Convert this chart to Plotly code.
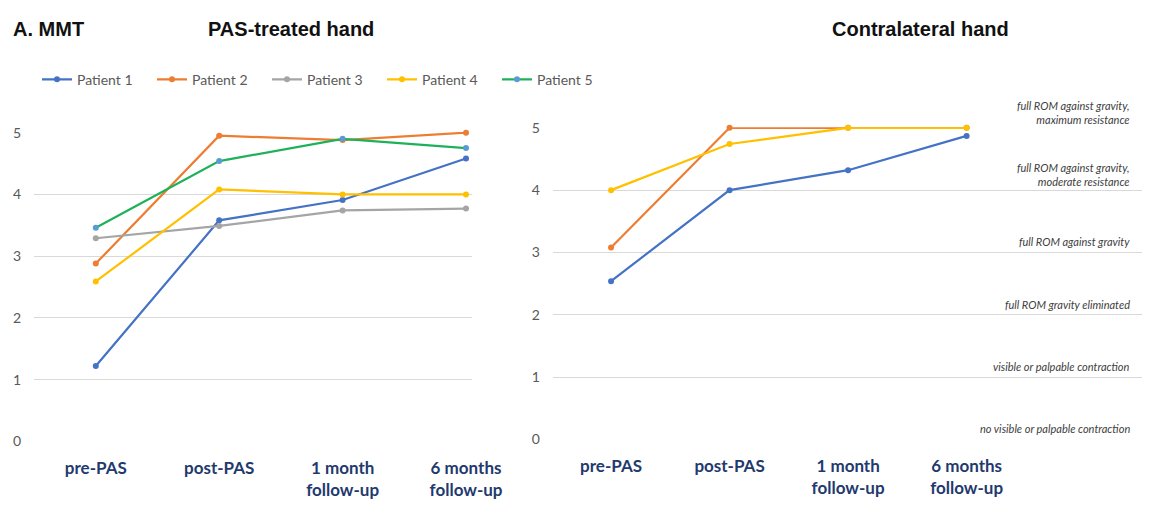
import plotly.graph_objects as go

W, H = 1173, 512

categories = ["pre-PAS", "post-PAS", "1 month<br>follow-up", "6 months<br>follow-up"]
patients = ["Patient 1", "Patient 2", "Patient 3", "Patient 4", "Patient 5"]

# PAS-treated hand
treated = {
    "Patient 1": [1.22, 3.58, 3.91, 4.58],
    "Patient 2": [2.88, 4.95, 4.88, 5.00],
    "Patient 3": [3.29, 3.49, 3.74, 3.77],
    "Patient 4": [2.59, 4.08, 4.00, 4.00],
    "Patient 5": [3.46, 4.54, 4.90, 4.75],
}
# Contralateral hand
contra = {
    "Patient 1": [2.54, 4.00, 4.32, 4.87],
    "Patient 2": [3.08, 5.00, 5.00, 5.00],
    "Patient 4": [4.00, 4.74, 5.00, 5.00],
}
scale_labels = [
    "no visible or palpable contraction",
    "visible or palpable contraction",
    "full ROM gravity eliminated",
    "full ROM against gravity",
    "full ROM against gravity,<br>moderate resistance",
    "full ROM against gravity,<br>maximum resistance",
]
y_ticks = [0, 1, 2, 3, 4, 5]

line_colors = {"Patient 1": "#4472C4", "Patient 2": "#ED7D31", "Patient 3": "#A5A5A5",
               "Patient 4": "#FFC000", "Patient 5": "#1DB25A"}
marker_colors = {"Patient 1": "#4472C4", "Patient 2": "#ED7D31", "Patient 3": "#A5A5A5",
                 "Patient 4": "#FFC000", "Patient 5": "#5B9BD5"}

xs = list(range(len(categories)))
fig = go.Figure()
for p in patients:
    fig.add_trace(go.Scatter(x=xs, y=treated[p], name=p, mode="lines+markers",
                             line=dict(color=line_colors[p], width=2.2),
                             marker=dict(color=marker_colors[p], size=6),
                             cliponaxis=False, xaxis="x", yaxis="y"))
for p in patients:
    if p in contra:
        fig.add_trace(go.Scatter(x=xs, y=contra[p], name=p, mode="lines+markers",
                                 line=dict(color=line_colors[p], width=2.2),
                                 marker=dict(color=marker_colors[p], size=6),
                                 cliponaxis=False, showlegend=False, xaxis="x2", yaxis="y2"))

tickfont_x = dict(family="Lato", size=17, color="#1F3A6E", weight="bold")
tickfont_y = dict(family="Lato", size=14, color="#595959")

YR = [-0.01, 5.01]
xcommon = dict(tickmode="array", tickvals=xs, ticktext=categories, showgrid=False,
               zeroline=False, showline=False, ticks="", tickfont=tickfont_x,
               ticklabelstandoff=14)
ycommon = dict(tickmode="array", tickvals=y_ticks, range=YR, showgrid=True,
               gridcolor="#D9D9D9", gridwidth=1, zeroline=False, showline=False,
               ticks="", tickfont=tickfont_y, ticklabelstandoff=12)

y1_dom = [(H - 447) / H, (H - 127) / H]
y2_dom = [(H - 445) / H, (H - 122) / H]

fig.update_layout(
    autosize=True, margin=dict(l=0, r=0, t=0, b=0),
    plot_bgcolor="white", paper_bgcolor="white",
    xaxis=dict(domain=[35 / W, 485 / W], range=[-0.5, 3.05], anchor="y", **xcommon),
    yaxis=dict(domain=y1_dom, anchor="x", **ycommon),
    xaxis2=dict(domain=[568 / W, 1.0], range=[-0.49, 4.48], anchor="y2", **xcommon),
    yaxis2=dict(domain=y2_dom, anchor="x2", **ycommon),
    legend=dict(orientation="h", x=38 / W, y=(H - 73) / H, xanchor="left", yanchor="middle",
                entrywidth=70, entrywidthmode="pixels",
                font=dict(family="Lato", size=14, color="#595959"), itemwidth=30),
    showlegend=True,
)

title_font = dict(family="Liberation Sans", size=20, color="#111111", weight="bold")
fig.add_annotation(text="A. MMT", xref="paper", yref="paper", x=11 / W, y=(H - 21) / H,
                   xanchor="left", yanchor="middle", showarrow=False, font=title_font)
fig.add_annotation(text="PAS-treated hand", xref="paper", yref="paper", x=299 / W, y=(H - 21) / H,
                   xanchor="center", yanchor="middle", showarrow=False, font=title_font)
fig.add_annotation(text="Contralateral hand", xref="paper", yref="paper", x=946 / W, y=(H - 21) / H,
                   xanchor="center", yanchor="middle", showarrow=False, font=title_font)


def y2_paper(v):
    return y2_dom[0] + (v - YR[0]) / (YR[1] - YR[0]) * (y2_dom[1] - y2_dom[0])


for level, lab in enumerate(scale_labels):
    off = 0.25 if "<br>" in lab else 0.17
    fig.add_annotation(text=lab, xref="paper", yref="paper", x=1163 / W, y=y2_paper(level + off),
                       xanchor="right", yanchor="middle", align="right", showarrow=False,
                       font=dict(family="Lato", size=11, color="#404040", style="italic"))

post = (
    "document.documentElement.style.height='100%';"
    "document.documentElement.style.margin='0';"
    "document.body.style.height='100%';"
    "document.body.style.margin='0';"
    "document.body.style.overflow='hidden';"
    "document.documentElement.style.overflow='hidden';"
    "var gd=document.getElementById('{plot_id}');"
    "gd.style.width='100vw';gd.style.height='100vh';"
    "Plotly.Plots.resize(gd);"
)
fig.write_html("out.html", default_width="100%", default_height="100%",
               config={"displayModeBar": False, "responsive": True}, post_script=post)
